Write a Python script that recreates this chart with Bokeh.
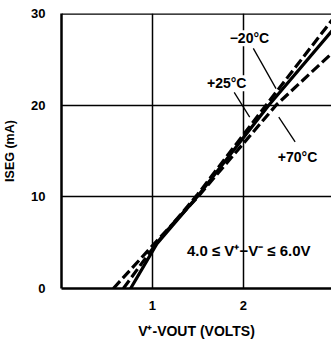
from bokeh.plotting import figure
from bokeh.models import Range1d, FixedTicker, Label, Span
from bokeh.embed import file_html
from bokeh.resources import INLINE

# Data
v_m20 = [0.68, 1.05, 1.5, 2.25, 3.0]
i_m20 = [0, 5.0, 10.3, 20, 29.6]
v_p25 = [0.76, 1.05, 1.5, 2.28, 3.0]
i_p25 = [0, 4.9, 10.1, 20, 28.4]
v_p70 = [0.57, 1.05, 1.5, 2.36, 3.0]
i_p70 = [0, 5.2, 10.0, 20, 25.9]
x_ticks = [1, 2]
y_ticks = [0, 10, 20, 30]

FONT = "Liberation Sans"

p = figure(width=331, height=341, output_backend="svg", toolbar_location=None,
           x_range=Range1d(0, 2.97), y_range=Range1d(0, 30),
           min_border_left=58, min_border_right=0, min_border_top=13, min_border_bottom=52)
p.outline_line_color = None
p.background_fill_color = "white"

for ax in (p.xaxis[0], p.yaxis[0]):
    ax.axis_line_width = 2.5
    ax.axis_line_color = "black"
    ax.major_tick_line_color = None
    ax.minor_tick_line_color = None
    ax.major_label_text_font = FONT
    ax.major_label_text_font_style = "bold"
    ax.major_label_text_font_size = "13px"
    ax.major_label_text_color = "black"
    ax.axis_label_text_font = FONT
    ax.axis_label_text_font_style = "bold"
    ax.axis_label_text_color = "black"

p.xaxis.ticker = FixedTicker(ticks=x_ticks)
p.yaxis.ticker = FixedTicker(ticks=y_ticks)
p.xaxis.major_label_standoff = 6
p.yaxis.major_label_standoff = 10
p.yaxis.axis_label = "ISEG (mA)"
p.yaxis.axis_label_text_font_size = "12.5px"
p.yaxis.axis_label_standoff = 11
p.xaxis.axis_label = "V\u207a-VOUT (VOLTS)"
p.xaxis.axis_label_text_font_size = "14px"
p.xaxis.axis_label_standoff = 10

p.xgrid.ticker = FixedTicker(ticks=x_ticks)
p.ygrid.ticker = FixedTicker(ticks=[10, 20])
for g in (p.xgrid[0], p.ygrid[0]):
    g.grid_line_color = "black"
    g.grid_line_width = 1.5
    g.grid_line_alpha = 1.0

p.add_layout(Span(location=30, dimension="width", line_color="black", line_width=2.5))

p.line(v_m20, i_m20, line_color="black", line_width=3.2, line_dash="10 4")
p.line(v_p25, i_p25, line_color="black", line_width=3.2)
p.line(v_p70, i_p70, line_color="black", line_width=3.2, line_dash="10 4")

# leader lines
p.line([2.11, 2.36], [26.2, 21.8], line_color="black", line_width=1.3)
p.line([1.90, 2.07], [21.4, 18.7], line_color="black", line_width=1.3)
p.line([2.39, 2.57], [18.7, 16.0], line_color="black", line_width=1.3)

def lab(x, y, t, size="14px", align="left", bg=None):
    l = Label(x=x, y=y, text=t, text_font=FONT, text_font_style="bold",
              text_font_size=size, text_align=align, text_baseline="middle",
              text_color="black")
    if bg:
        l.background_fill_color = bg
    p.add_layout(l)

lab(1.85, 27.3, "\u221220\u00b0C", bg="white")
lab(1.60, 22.4, "+25\u00b0C", bg="white")
lab(2.38, 14.3, "+70\u00b0C")
lab(1.38, 4.2, "4.0 \u2264 V\u207a\u2212V\u207b \u2264 6.0V", size="15px")

open("out.html", "w").write(file_html(p, INLINE))
